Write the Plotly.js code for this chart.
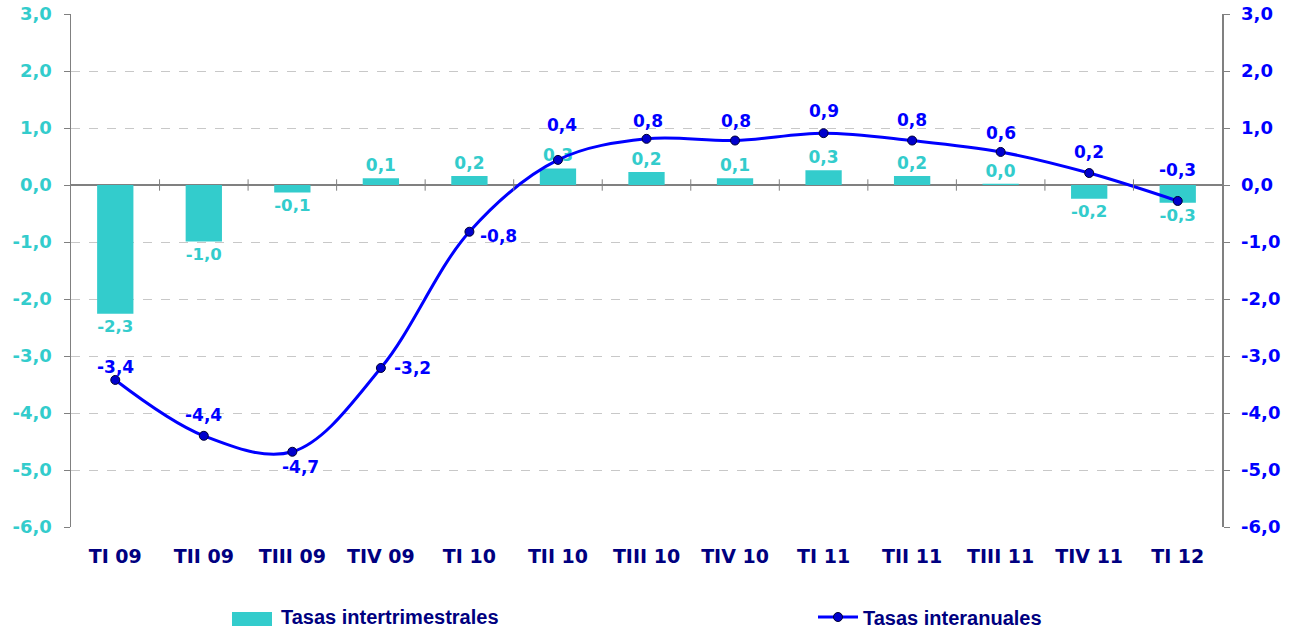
<!DOCTYPE html>
<html>
<head>
<meta charset="utf-8">
<script src="https://cdn.plot.ly/plotly-3.0.1.min.js"></script>
<style>html,body{margin:0;padding:0;background:#fff;}#chart{width:1298px;height:629px;}</style>
</head>
<body>
<div id="chart"></div>
<script>
const categories = ['TI 09','TII 09','TIII 09','TIV 09','TI 10','TII 10','TIII 10','TIV 10','TI 11','TII 11','TIII 11','TIV 11','TI 12'];
const intertrimestrales = [-2.26,-0.99,-0.13,0.12,0.16,0.29,0.23,0.12,0.26,0.16,0.02,-0.24,-0.31];
const interanuales = [-3.42,-4.40,-4.68,-3.21,-0.82,0.44,0.81,0.78,0.91,0.78,0.58,0.21,-0.28];
const yTicks = [-6,-5,-4,-3,-2,-1,0,1,2,3];
// label placement of the year-on-year labels relative to their points
const lineLabelAnchor = ['center','center','center','left','left','center','center','center','center','center','center','center','center'];
const lineLabelDx = [0,0,8,11,9,4,1,1,0,0,0,0,0];
const lineLabelDy = [13,21,-15,0,-4,35,18,20,22,21,19,21,31];

const fmt = v => v.toFixed(1).replace('.', ',');
const FONT = 'DejaVu Sans, Verdana, sans-serif';
const TEAL = '#33CCCC';
const BLUE = '#0000FF';
const NAVY = '#000080';

const bars = {
  type: 'bar', name: 'Tasas intertrimestrales', x: categories, y: intertrimestrales,
  marker: {color: TEAL}, width: 0.41,
  text: intertrimestrales.map(fmt), texttemplate: '%{text}', textposition: 'outside', cliponaxis: false,
  textfont: {family: FONT, size: 17, color: TEAL, weight: 700},
  showlegend: false, hoverinfo: 'skip'
};
const line = {
  type: 'scatter', mode: 'lines+markers', name: 'Tasas interanuales',
  x: categories, y: interanuales,
  line: {color: BLUE, width: 3, shape: 'spline', smoothing: 1},
  marker: {size: 9, color: '#0000CC', line: {color: '#000033', width: 1}},
  cliponaxis: false,
  legend: 'legend2', hoverinfo: 'skip'
};

const shapes = [];
for (let i = 0; i < categories.length - 1; i++) {
  shapes.push({type: 'line', xref: 'x', yref: 'y', x0: i + 0.5, x1: i + 0.5, y0: -0.1, y1: 0.1,
    line: {color: '#808080', width: 1}});
}

const legendFont = {family: 'Liberation Sans Narrow, Arial Narrow, Liberation Sans, sans-serif', size: 20, color: NAVY, weight: 700};

const annotations = interanuales.map((v, i) => ({
  xref: 'x', yref: 'y', x: categories[i], y: v, text: fmt(v), showarrow: false,
  xshift: lineLabelDx[i], yshift: lineLabelDy[i],
  xanchor: lineLabelAnchor[i], yanchor: 'middle',
  font: {family: FONT, size: 17, color: BLUE, weight: 700}
}));
// custom legend entry for the bars (larger swatch as in the reference)
const px = x => (x - 71) / 1151, py = y => (527 - y) / 513;
shapes.push({type: 'rect', xref: 'paper', yref: 'paper', x0: px(232), x1: px(272), y0: py(626), y1: py(612),
  fillcolor: TEAL, line: {width: 0}});
annotations.push({xref: 'paper', yref: 'paper', x: px(279), y: py(617), xanchor: 'left', yanchor: 'middle',
  text: bars.name, showarrow: false, font: legendFont});

const layout = {
  width: 1298, height: 629,
  margin: {l: 71, r: 76, t: 14, b: 102, pad: 0, autoexpand: false},
  paper_bgcolor: '#fff', plot_bgcolor: '#fff',
  separators: ',.',
  showlegend: true,
  xaxis: {
    type: 'category', range: [-0.5, categories.length - 0.5],
    showline: false, ticks: '', showgrid: false, zeroline: false,
    tickfont: {family: FONT, size: 19, color: NAVY, weight: 700},
    ticklabelstandoff: 16
  },
  yaxis: {
    range: [-6, 3], tickvals: yTicks, ticktext: yTicks.map(fmt),
    showline: true, linecolor: '#808080', linewidth: 1.5,
    ticks: 'outside', ticklen: 6, tickcolor: '#808080',
    showgrid: true, gridcolor: '#C8C8C8', griddash: 'dash', gridwidth: 1,
    zeroline: true, zerolinecolor: '#808080', zerolinewidth: 1.5,
    tickfont: {family: FONT, size: 18, color: TEAL, weight: 700},
    ticklabelstandoff: 8
  },
  yaxis2: {
    overlaying: 'y', side: 'right', range: [-6, 3], tickvals: yTicks, ticktext: yTicks.map(fmt),
    showline: true, linecolor: '#808080', linewidth: 1.5,
    ticks: 'outside', ticklen: 6, tickcolor: '#808080',
    showgrid: false, zeroline: false,
    tickfont: {family: FONT, size: 18, color: BLUE, weight: 700},
    ticklabelstandoff: 8
  },
  legend2: {
    x: 813 / 1298, xref: 'container', xanchor: 'left', y: 12 / 629, yref: 'container', yanchor: 'middle',
    orientation: 'h', bgcolor: 'rgba(0,0,0,0)', font: legendFont, itemwidth: 40
  },
  shapes: shapes,
  annotations: annotations
};

// invisible trace that keeps the right-hand axis drawn
const rightAxis = {type: 'scatter', x: [categories[0]], y: [0], yaxis: 'y2', mode: 'markers',
  marker: {opacity: 0}, showlegend: false, hoverinfo: 'skip'};

Plotly.newPlot('chart', [bars, line, rightAxis], layout, {displayModeBar: false, staticPlot: true});
</script>
</body>
</html>
